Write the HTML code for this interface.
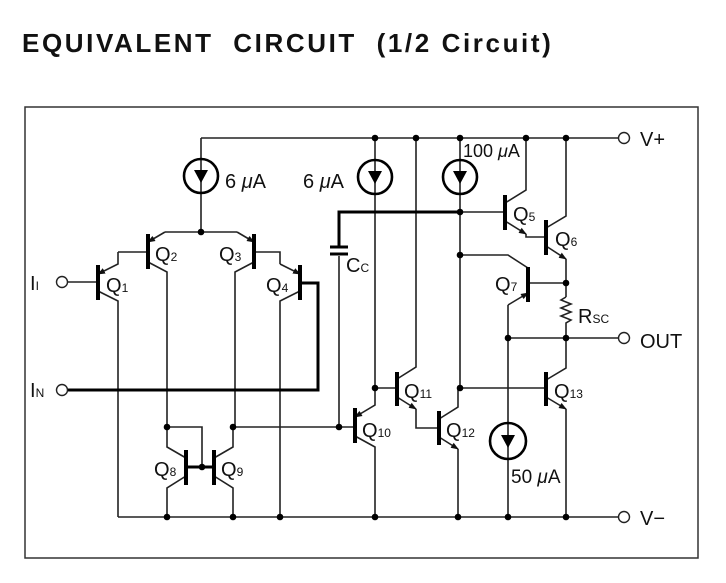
<!DOCTYPE html>
<html><head><meta charset="utf-8"><style>
body{margin:0;background:#fff;width:726px;height:583px;overflow:hidden}
svg{position:absolute;left:0;top:0}
text{font-family:"Liberation Sans",Arial,sans-serif;fill:#111}
</style></head><body>
<svg width="726" height="583" viewBox="0 0 726 583">
<defs>
<marker id="a" markerWidth="8" markerHeight="8" refX="7" refY="4" orient="auto" markerUnits="userSpaceOnUse"><path d="M0,1 L8,4 L0,7z" fill="#111"/></marker>
</defs>
<text x="22" y="52" font-size="26" font-weight="bold" letter-spacing="2.6" xml:space="preserve" style="white-space:pre">EQUIVALENT  CIRCUIT  (1/2 Circuit)</text>
<rect x="25" y="107" width="673" height="451" fill="none" stroke="#333" stroke-width="1.5"/>
<g fill="none" stroke="#222" stroke-width="1.6">
<path d="M201,138 H618"/>
<path d="M118,517 H618"/>
<path d="M508,338 H618"/>
<path d="M201,138 V232 H165 M201,232 H237"/>
<path d="M68,282 H98"/>
<path d="M118,252 V264 L98,274" marker-end="url(#a)"/>
<path d="M98,291 L118,301 V517"/>
<path d="M165,232 L148,242" marker-end="url(#a)"/>
<path d="M148,252 H118"/>
<path d="M148,262 L167,272 V427"/>
<path d="M237,232 L254,242" marker-end="url(#a)"/>
<path d="M254,252 H280 V264"/>
<path d="M254,262 L235,272 V427"/>
<path d="M280,264 L300,274" marker-end="url(#a)"/>
<path d="M300,291 L280,301 V517"/>
<path d="M167,427 V447 L186,458"/>
<path d="M167,517 V488 L186,476"/>
<path d="M233,427 V447 L214,458"/>
<path d="M233,517 V488 L214,476"/>
<path d="M167,427 H202 V467"/>
<path d="M233,427 H355"/>
<path d="M375,388 V405 L355,417" marker-end="url(#a)"/>
<path d="M355,436 L375,447 V517"/>
<path d="M339,427 V256"/>
<path d="M375,138 V388 H397"/>
<path d="M397,379 L416,367 V138"/>
<path d="M397,397 L416,409" marker-end="url(#a)"/>
<path d="M416,409 V428 H439"/>
<path d="M460,138 V388"/>
<path d="M439,419 L458,407 V388"/>
<path d="M439,437 L458,449" marker-end="url(#a)"/>
<path d="M458,449 V517"/>
<path d="M458,388 H546"/>
<path d="M546,380 L566,368 V338"/>
<path d="M546,397 L566,409" marker-end="url(#a)"/>
<path d="M566,409 V517"/>
<path d="M460,212 H505"/>
<path d="M505,203 L526,190 V138"/>
<path d="M505,221 L526,234" marker-end="url(#a)"/>
<path d="M526,234 V237 H546"/>
<path d="M546,228 L566,216 V138"/>
<path d="M546,246 L566,259" marker-end="url(#a)"/>
<path d="M566,259 V297"/>
<path d="M460,255 H508 L528,268"/>
<path d="M528,283 H566"/>
<path d="M508,305 L528,293" marker-end="url(#a)"/>
<path d="M508,305 V517"/>
<path d="M566,297 L561,300 L571,304 L561,308 L571,312 L561,316 L571,320 L566,323 V338"/>
<circle cx="624" cy="138" r="5.5" stroke-width="1.4"/>
<circle cx="624" cy="338" r="5.5" stroke-width="1.4"/>
<circle cx="624" cy="517" r="5.5" stroke-width="1.4"/>
<circle cx="62" cy="282" r="5.5" stroke-width="1.4"/>
<circle cx="62" cy="390" r="5.5" stroke-width="1.4"/>
</g>
<g fill="none" stroke="#000" stroke-width="3">
<path d="M300,283 H318 V390 H68"/>
<path d="M339,247 V212 H460"/>
<path d="M330,247 H348 M330,254 H348"/>
</g>
<g stroke="#000" stroke-width="4">
<path d="M98,265 V300"/><path d="M148,234 V269"/><path d="M254,234 V269"/><path d="M300,265 V300"/>
<path d="M186,450 V485"/><path d="M214,450 V485"/><path d="M186,467 H214" stroke-width="3"/>
<path d="M355,408 V443"/><path d="M397,372 V406"/><path d="M439,411 V445"/><path d="M546,372 V406"/>
<path d="M505,195 V230"/><path d="M546,220 V255"/><path d="M528,267 V302"/>
</g>
<g fill="none" stroke="#000" stroke-width="2.6">
<circle cx="201" cy="176" r="17"/><circle cx="375" cy="177" r="17"/><circle cx="460" cy="177" r="17"/><circle cx="508" cy="441" r="18"/>
</g>
<g fill="#000">
<path d="M194,170 H208 L201,183z"/><path d="M368,171 H382 L375,184z"/><path d="M453,171 H467 L460,184z"/><path d="M501,435 H515 L508,448z"/>
<circle cx="201" cy="232" r="3.3"/><circle cx="375" cy="138" r="3.3"/><circle cx="416" cy="138" r="3.3"/><circle cx="460" cy="138" r="3.3"/><circle cx="526" cy="138" r="3.3"/><circle cx="566" cy="138" r="3.3"/>
<circle cx="460" cy="212" r="3.3"/><circle cx="460" cy="255" r="3.3"/><circle cx="566" cy="283" r="3.3"/><circle cx="508" cy="338" r="3.3"/><circle cx="566" cy="338" r="3.3"/>
<circle cx="375" cy="388" r="3.3"/><circle cx="460" cy="388" r="3.3"/><circle cx="339" cy="427" r="3.3"/><circle cx="167" cy="427" r="3.3"/><circle cx="233" cy="427" r="3.3"/><circle cx="202" cy="467" r="3.3"/>
<circle cx="167" cy="517" r="3.3"/><circle cx="233" cy="517" r="3.3"/><circle cx="280" cy="517" r="3.3"/><circle cx="375" cy="517" r="3.3"/><circle cx="458" cy="517" r="3.3"/><circle cx="508" cy="517" r="3.3"/><circle cx="566" cy="517" r="3.3"/>
</g>
<g font-size="20">
<text x="225" y="188">6 <tspan font-style="italic">μ</tspan>A</text>
<text x="303" y="188">6 <tspan font-style="italic">μ</tspan>A</text>
<text x="463" y="157" font-size="18">100 <tspan font-style="italic">μ</tspan>A</text>
<text x="511" y="483" font-size="19">50 <tspan font-style="italic">μ</tspan>A</text>
<text x="640" y="146">V+</text>
<text x="640" y="348">OUT</text>
<text x="640" y="525">V−</text>
<text x="30" y="290">I<tspan font-size="12">I</tspan></text>
<text x="30" y="397">I<tspan font-size="12">N</tspan></text>
<text x="346" y="272">C<tspan font-size="12">C</tspan></text>
<text x="578" y="323">R<tspan font-size="12">SC</tspan></text>
<text x="106" y="292">Q<tspan font-size="12">1</tspan></text>
<text x="155" y="261">Q<tspan font-size="12">2</tspan></text>
<text x="219" y="261">Q<tspan font-size="12">3</tspan></text>
<text x="266" y="292">Q<tspan font-size="12">4</tspan></text>
<text x="513" y="221">Q<tspan font-size="12">5</tspan></text>
<text x="555" y="246">Q<tspan font-size="12">6</tspan></text>
<text x="495" y="291">Q<tspan font-size="12">7</tspan></text>
<text x="154" y="476">Q<tspan font-size="12">8</tspan></text>
<text x="221" y="476">Q<tspan font-size="12">9</tspan></text>
<text x="362" y="437">Q<tspan font-size="12">10</tspan></text>
<text x="404" y="398">Q<tspan font-size="12">11</tspan></text>
<text x="446" y="437">Q<tspan font-size="12">12</tspan></text>
<text x="554" y="398">Q<tspan font-size="12">13</tspan></text>
</g>
</svg>
</body></html>
